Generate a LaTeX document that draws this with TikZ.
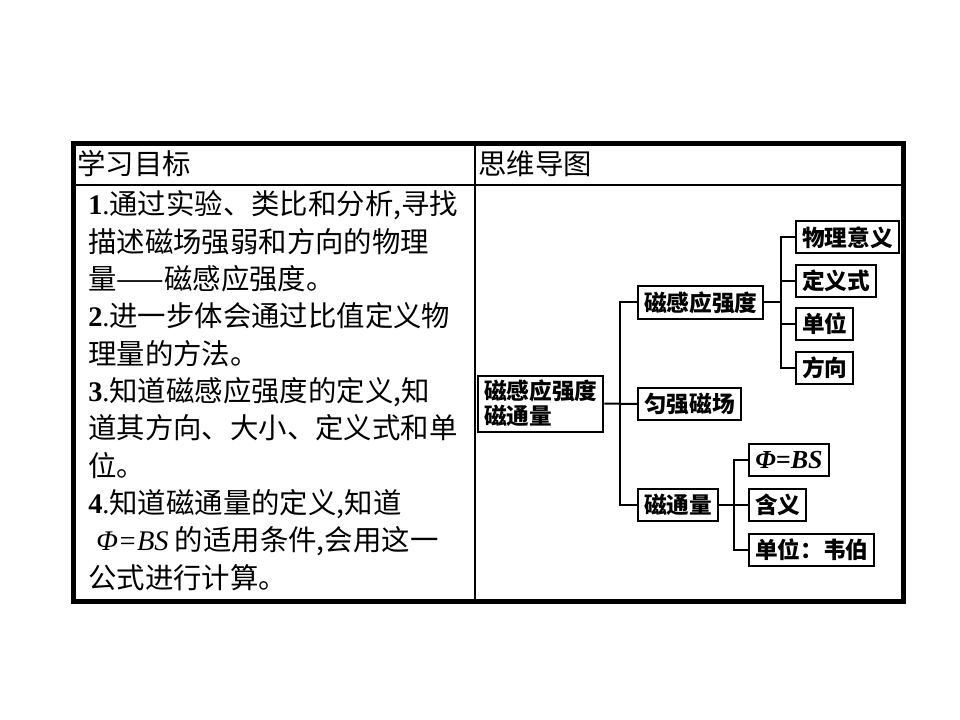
\documentclass[tikz,border=0pt]{standalone}
\usepackage{fontspec}
\setmainfont{Noto Sans CJK SC}
\newfontfamily\timesf{Liberation Serif}

\newcommand\itemno[1]{{\timesf\textbf{#1}.}}
\newcommand\phibs{{\timesf\itshape Φ=BS}}

\tikzset{
  goaltext/.style={anchor=west,inner sep=0pt,font=\fontsize{21.3}{26}\selectfont,
    text height=0.8em,text depth=0.2em},
  mapbox/.style={draw,line width=1.5pt,anchor=west,inner xsep=4.5pt,inner ysep=1pt,
    minimum height=24pt,font=\fontsize{17}{18.75}\selectfont\bfseries},
  link/.style={line width=1.5pt},
  frame/.style={line width=3.75pt},
  rule/.style={line width=1.5pt}
}

\begin{document}
\begin{tikzpicture}[x=0.75pt,y=-0.75pt]
  \fill[white] (0,0) rectangle (960,720);
  \useasboundingbox (0,0) rectangle (960,720);
  % table
  \draw[rule] (73.5,185) -- (903.5,185);
  \draw[rule] (475,143.5) -- (475,601);
  \draw[frame] (73.5,143.5) rectangle (903.5,601);
  \node[goaltext] (headgoal) at (77,171) {学习目标};
  \node[goaltext] (headmap) at (478,171) {思维导图};
  % goals
  \foreach \txt [count=\i from 0] in {
      {\itemno{1}通过实验、类比和分析,寻找},
      {描述磁场强弱和方向的物理},
      {量——磁感应强度。},
      {\itemno{2}进一步体会通过比值定义物},
      {理量的方法。},
      {\itemno{3}知道磁感应强度的定义,知},
      {道其方向、大小、定义式和单},
      {位。},
      {\itemno{4}知道磁通量的定义,知道},
      {\hspace{6pt}\phibs\ 的适用条件,会用这一},
      {公式进行计算。}}
    \node[goaltext] (goal\i) at (88,211+37.3*\i) {\txt};
  % mind map
  \node[mapbox,align=left,minimum height=42pt] (root) at (477,403.5) {磁感应强度\\磁通量};
  \node[mapbox] (c1) at (637,302.5) {磁感应强度};
  \node[mapbox] (c2) at (637,404) {匀强磁场};
  \node[mapbox] (c3) at (637,505) {磁通量};
  \node[mapbox] (g1) at (795,237.5) {物理意义};
  \node[mapbox] (g2) at (795,281) {定义式};
  \node[mapbox] (g3) at (795,324) {单位};
  \node[mapbox] (g4) at (795,367.5) {方向};
  \node[mapbox,minimum width=60pt] (h1) at (748,460)
    {\fontsize{19.5}{20}\selectfont\timesf\bfseries\itshape Φ=BS};
  \node[mapbox] (h2) at (748,504.5) {含义};
  \node[mapbox] (h3) at (748,549.5) {单位：韦伯};
  \draw[link] (root.east) -- (c2.west);
  \draw[link] (c1.west) -- ++(-17,0) coordinate (trunk) |- (c3.west);
  \draw[link] (c1.east) -- ++(17,0) coordinate (fork1);
  \foreach \n in {g1,g2,g3,g4}
    \draw[link] (fork1) |- (\n.west);
  \draw[link] (c3.east) -- ++(15,0) coordinate (fork3);
  \foreach \n in {h1,h2,h3}
    \draw[link] (fork3) |- (\n.west);
\end{tikzpicture}
\end{document}
